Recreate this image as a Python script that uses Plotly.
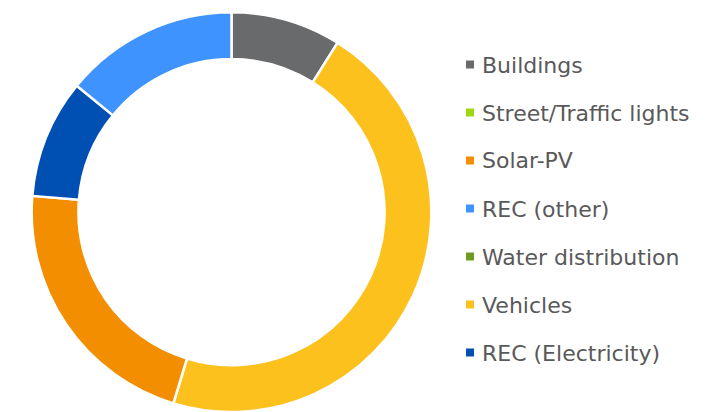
import plotly.graph_objects as go

# Legend order (as shown in the reference)
categories = ["Buildings", "Street/Traffic lights", "Solar-PV", "REC (other)",
              "Water distribution", "Vehicles", "REC (Electricity)"]
shares = [8.9, 0.0, 21.6, 14.1, 0.0, 45.8, 9.6]
colors = ["#696a6c", "#9fd80f", "#f28e00", "#3f93ff", "#6f9a22", "#fdc11e", "#0050b4"]

# Order of slices around the ring, clockwise from 12 o'clock
slice_order = ["Buildings", "Vehicles", "Solar-PV", "REC (Electricity)", "REC (other)"]

W, H = 712, 412
idx = [categories.index(c) for c in slice_order]

fig = go.Figure()
fig.add_trace(go.Pie(
    labels=[categories[i] for i in idx],
    values=[shares[i] for i in idx],
    marker=dict(colors=[colors[i] for i in idx], line=dict(color="white", width=2.5)),
    hole=0.766,
    sort=False,
    direction="clockwise",
    rotation=0,
    textinfo="none",
    hoverinfo="label+value",
    showlegend=False,
    domain=dict(x=[31 / W, 432 / W], y=[0, 0.97]),
))

# Manual legend built from the category lists
shapes = []
annotations = []
y0 = 64.5
step = 48.0
for i, (name, col) in enumerate(zip(categories, colors)):
    yc = y0 + step * i
    shapes.append(dict(type="rect", xref="paper", yref="paper",
                       x0=466 / W, x1=474 / W,
                       y0=1 - (yc + 4) / H, y1=1 - (yc - 4) / H,
                       fillcolor=col, line=dict(width=0)))
    annotations.append(dict(text=name, xref="paper", yref="paper",
                            x=480 / W, y=1 - (yc + 0.5) / H,
                            xanchor="left", yanchor="middle", showarrow=False,
                            font=dict(family="DejaVu Sans", size=22, color="#595959")))

fig.update_layout(
    width=W, height=H,
    margin=dict(l=0, r=0, t=0, b=0),
    paper_bgcolor="white",
    plot_bgcolor="white",
    shapes=shapes,
    annotations=annotations,
)

fig.write_html("out.html",
               config={"displayModeBar": False},
               post_script="document.body.style.margin='0';document.body.style.overflow='hidden';")
